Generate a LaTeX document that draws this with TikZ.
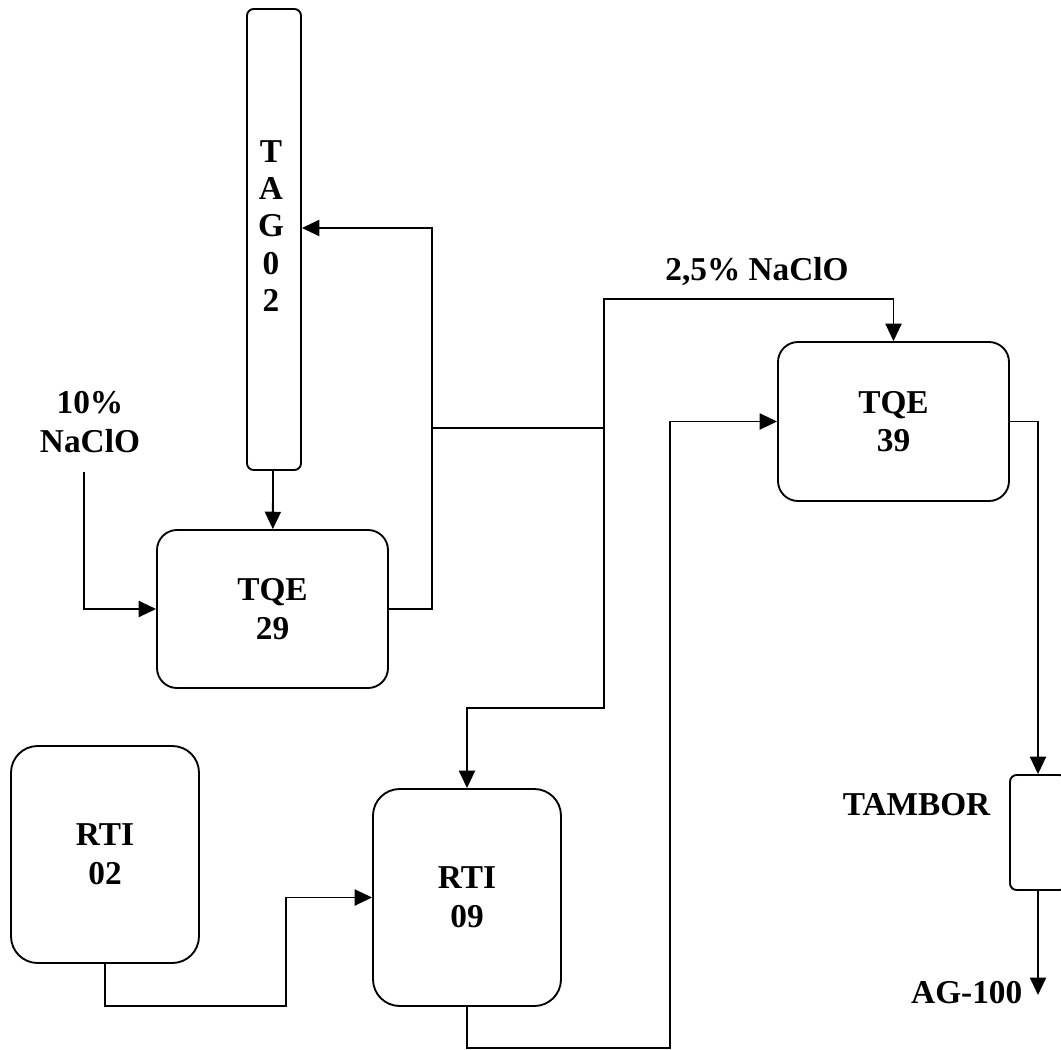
\documentclass[tikz,border=0pt]{standalone}
\usepackage{fontspec}
\setmainfont{Liberation Serif}
\usepackage{tikz}
\usetikzlibrary{arrows.meta,calc}
\def\pxu{0.75pt}

\begin{document}
\begin{tikzpicture}[x=0.75pt,y=-0.75pt,
    unit/.style={draw,line width=1.4pt,rounded corners=15pt,inner sep=0pt,
        font=\fontsize{25}{29}\selectfont\bfseries,align=center},
    flow/.style={line width=1.4pt,-{Triangle[length=13pt,width=12pt]}},
    pipe/.style={line width=1.4pt},
    tag/.style={font=\fontsize{25}{28}\selectfont\bfseries,align=center}]
    \useasboundingbox (0,0) rectangle (1061,1050);
    % units
    \node[unit,rounded corners=5pt,minimum width=54*\pxu,minimum height=461*\pxu] (tag) at (274,239.5) {};
    \node[tag] (tagtext) at (271,226) {T\\A\\G\\0\\2};
    \node[unit,minimum width=231*\pxu,minimum height=158*\pxu] (tqe29) at (272.5,609) {TQE\\29};
    \node[unit,minimum width=231*\pxu,minimum height=159*\pxu] (tqe39) at (893.5,421.5) {TQE\\39};
    \node[unit,rounded corners=20pt,minimum width=188*\pxu,minimum height=217*\pxu] (rti02) at (105,854.5) {RTI\\02};
    \node[unit,rounded corners=20pt,minimum width=188*\pxu,minimum height=217*\pxu] (rti09) at (467,897.5) {RTI\\09};
    \node[unit,rounded corners=5pt,minimum width=56*\pxu,minimum height=115*\pxu] (tambor) at (1038,832.5) {};
    % labels
    \node[tag,font=\fontsize{25}{29}\selectfont\bfseries] (naclo10) at (90,422) {10\%\\NaClO};
    \node[tag] (naclo25) at (757,272) {2,5\% NaClO};
    \node[tag,anchor=east] (tamborlbl) at (995,805) {TAMBOR};
    \node[tag,anchor=east] (ag100) at (1027,993) {AG-100};
    % junctions
    \coordinate (n10) at (84,472);
    \coordinate (riser) at (432,228);
    \coordinate (tagin) at (tag.east |- riser);
    \coordinate (split) at (432,428);
    \coordinate (split2) at (604,428);
    \coordinate (top25) at (604,299);
    \coordinate (drop) at (604,708);
    \coordinate (low1) at (286,1006);
    \coordinate (low2) at (670,1048);
    \coordinate (agout) at (1038,995);
    % streams
    \draw[flow] (tag) -- (tqe29);
    \draw[flow] (n10) |- (tqe29.west);
    \draw[flow] (tqe29.east) -| (riser) -- (tagin);
    \draw[pipe] (split) -- (split2);
    \draw[flow] (split2) -- (top25) -| (tqe39.north);
    \draw[flow] (split2) -- (drop) -| (rti09.north);
    \draw[flow] (rti02.south) |- (low1) |- (rti09.west);
    \draw[flow] (rti09.south) |- (low2) |- (tqe39.west);
    \draw[flow] (tqe39.east) -| (tambor.north);
    \draw[flow] (tambor.south) -- (agout);
\end{tikzpicture}
\end{document}
